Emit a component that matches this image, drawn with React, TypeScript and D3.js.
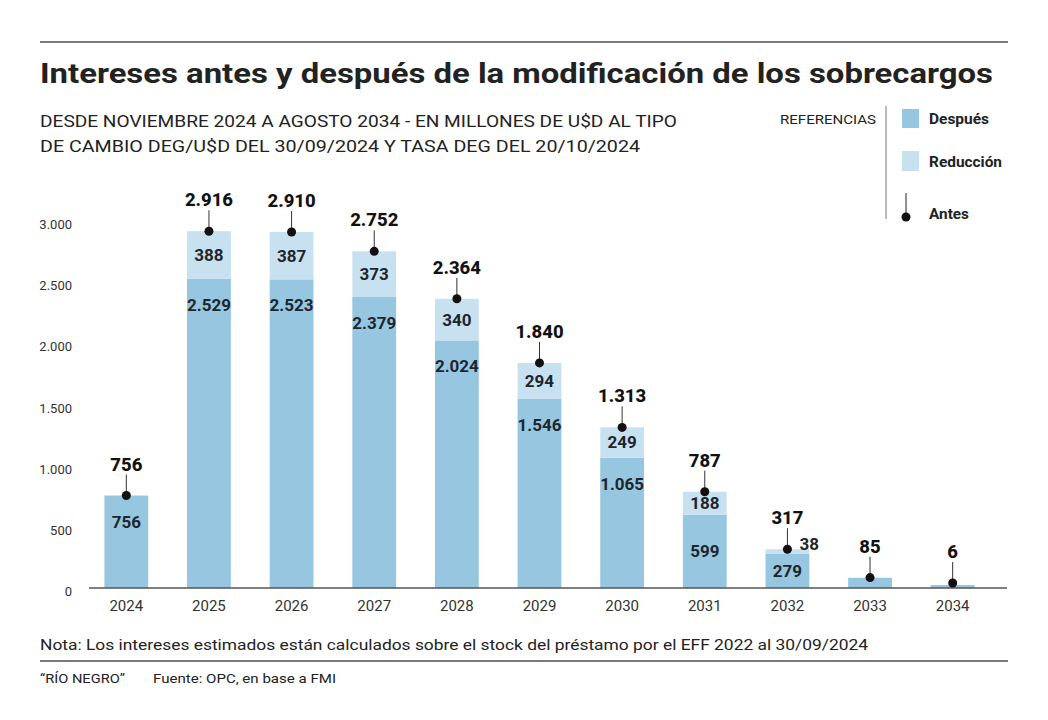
import { useEffect, useRef } from "react";
import * as d3 from "d3";

const years = ["2024", "2025", "2026", "2027", "2028", "2029", "2030", "2031", "2032", "2033", "2034"];
const despues = [756, 2529, 2523, 2379, 2024, 1546, 1065, 599, 279, 83, 6];
const reduccion = [0, 388, 387, 373, 340, 294, 249, 188, 38, 2, 0];
const antes = [756, 2916, 2910, 2752, 2364, 1840, 1313, 787, 317, 85, 6];
const yTicks = [0, 500, 1000, 1500, 2000, 2500, 3000];

const COLOR_DESPUES = "#96c6e0";
const COLOR_REDUCCION = "#c8e1f0";
const INK = "#1e262d";
const FONT = "Roboto, 'Liberation Sans', sans-serif";

const fmt = (v: number) => d3.format(",")(v).replace(/,/g, ".");

export default function App() {
  const svgRef = useRef<SVGSVGElement>(null);

  useEffect(() => {
    if (!svgRef.current) return;
    const svg = d3.select(svgRef.current);
    svg.selectAll("*").remove();

    const base = 588;
    const minH = 3; // keep tiny bars visible, as in the print

    const x = d3.scaleBand<string>().domain(years).range([85, 994]).paddingInner(0.47).paddingOuter(0.235);
    const y = d3.scaleLinear().domain([0, 3000]).range([base, base - 367]);
    const top = (v: number) => Math.min(y(v), base - minH);

    // rules
    svg.append("line").attr("x1", 40).attr("x2", 1008).attr("y1", 42).attr("y2", 42)
      .attr("stroke", "#7a7a7a").attr("stroke-width", 2);
    svg.append("line").attr("x1", 40).attr("x2", 1008).attr("y1", 661).attr("y2", 661)
      .attr("stroke", "#7a7a7a").attr("stroke-width", 2);

    // title
    svg.append("text").attr("x", 40).attr("y", 83)
      .attr("textLength", 953).attr("lengthAdjust", "spacingAndGlyphs")
      .style("font-family", FONT).style("font-weight", 700).style("font-size", "28px").style("fill", "#222")
      .text("Intereses antes y después de la modificación de los sobrecargos");

    const sub = [
      { t: "DESDE NOVIEMBRE 2024 A AGOSTO 2034 - EN MILLONES DE U$D AL TIPO", w: 637, y: 127 },
      { t: "DE CAMBIO DEG/U$D DEL 30/09/2024 Y TASA DEG DEL 20/10/2024", w: 600, y: 152 },
    ];
    sub.forEach((s) => {
      svg.append("text").attr("x", 40).attr("y", s.y)
        .attr("textLength", s.w).attr("lengthAdjust", "spacingAndGlyphs")
        .style("font-family", FONT).style("font-size", "17px").style("fill", "#222")
        .text(s.t);
    });

    // legend
    const lg = svg.append("g");
    lg.append("text").attr("x", 780).attr("y", 124).attr("textLength", 96).attr("lengthAdjust", "spacingAndGlyphs")
      .style("font-family", FONT).style("font-size", "13px").style("fill", "#222").text("REFERENCIAS");
    lg.append("line").attr("x1", 886).attr("x2", 886).attr("y1", 106).attr("y2", 219)
      .attr("stroke", "#777").attr("stroke-width", 1);
    lg.append("rect").attr("x", 902).attr("y", 109).attr("width", 17).attr("height", 19).attr("fill", COLOR_DESPUES);
    lg.append("text").attr("x", 929).attr("y", 124).attr("textLength", 60).attr("lengthAdjust", "spacingAndGlyphs")
      .style("font-family", FONT).style("font-weight", 700).style("font-size", "15px").style("fill", "#222").text("Después");
    lg.append("rect").attr("x", 902).attr("y", 151).attr("width", 17).attr("height", 20).attr("fill", COLOR_REDUCCION);
    lg.append("text").attr("x", 929).attr("y", 167).attr("textLength", 73).attr("lengthAdjust", "spacingAndGlyphs")
      .style("font-family", FONT).style("font-weight", 700).style("font-size", "15px").style("fill", "#222").text("Reducción");
    lg.append("line").attr("x1", 906).attr("x2", 906).attr("y1", 193).attr("y2", 215)
      .attr("stroke", "#222").attr("stroke-width", 1);
    lg.append("circle").attr("cx", 906).attr("cy", 217).attr("r", 4.5).attr("fill", "#111");
    lg.append("text").attr("x", 929).attr("y", 219).attr("textLength", 40).attr("lengthAdjust", "spacingAndGlyphs")
      .style("font-family", FONT).style("font-weight", 700).style("font-size", "15px").style("fill", "#222").text("Antes");

    // y tick labels
    svg.append("g").selectAll("text").data(yTicks).enter().append("text")
      .attr("x", 72).attr("y", (d) => y(d) + 8)
      .attr("text-anchor", "end")
      .style("font-family", FONT).style("font-size", "13px").style("fill", "#333")
      .text((d) => fmt(d));

    const bw = x.bandwidth();
    const g = svg.append("g");

    // bars: después
    g.selectAll(".bd").data(years).enter().append("rect")
      .attr("x", (d) => x(d)!)
      .attr("y", (_, i) => top(despues[i]))
      .attr("width", bw)
      .attr("height", (_, i) => base - top(despues[i]))
      .attr("fill", COLOR_DESPUES);

    // bars: reducción
    g.selectAll(".br").data(years).enter().append("rect")
      .attr("x", (d) => x(d)!)
      .attr("y", (_, i) => y(despues[i] + reduccion[i]))
      .attr("width", bw)
      .attr("height", (_, i) => Math.max(0, y(despues[i]) - y(despues[i] + reduccion[i])))
      .attr("fill", COLOR_REDUCCION);

    // baseline axis
    svg.append("line").attr("x1", 89).attr("x2", 1007).attr("y1", base).attr("y2", base)
      .attr("stroke", "#555").attr("stroke-width", 1.5);

    // year labels
    svg.append("g").selectAll("text").data(years).enter().append("text")
      .attr("x", (d) => x(d)! + bw / 2).attr("y", 611)
      .attr("text-anchor", "middle")
      .style("font-family", FONT).style("font-size", "15px").style("fill", "#333")
      .text((d) => d);

    // inner labels
    years.forEach((yr, i) => {
      const cx = x(yr)! + bw / 2;
      const topD = y(despues[i]);
      const hD = base - topD;
      if (despues[i] > 150) {
        const ly = hD < 80 ? topD + hD / 2 : topD + 26;
        g.append("text").attr("x", cx).attr("y", ly + 6).attr("text-anchor", "middle")
          .style("font-family", FONT).style("font-weight", 700).style("font-size", "17px").style("fill", INK)
          .text(fmt(despues[i]));
      }
      if (reduccion[i] > 10) {
        const topR = y(despues[i] + reduccion[i]);
        const hR = topD - topR;
        if (hR > 15) {
          g.append("text").attr("x", cx).attr("y", topR + hR / 2 + 6).attr("text-anchor", "middle")
            .style("font-family", FONT).style("font-weight", 700).style("font-size", "17px").style("fill", INK)
            .text(fmt(reduccion[i]));
        } else {
          g.append("text").attr("x", cx + 12).attr("y", y(antes[i]) + 1).attr("text-anchor", "start")
            .style("font-family", FONT).style("font-weight", 700).style("font-size", "17px").style("fill", INK)
            .text(fmt(reduccion[i]));
        }
      }
    });

    // antes markers
    const mk = svg.append("g");
    years.forEach((yr, i) => {
      const cx = x(yr)! + bw / 2;
      const cy = Math.min(y(antes[i]), base - minH - 2);
      mk.append("line").attr("x1", cx).attr("x2", cx).attr("y1", cy).attr("y2", cy - 21)
        .attr("stroke", "#333").attr("stroke-width", 1);
      mk.append("circle").attr("cx", cx).attr("cy", cy).attr("r", 4.5).attr("fill", "#111");
      mk.append("text").attr("x", cx).attr("y", cy - 25).attr("text-anchor", "middle")
        .style("font-family", FONT).style("font-weight", 800).style("font-size", "18.5px").style("fill", "#111")
        .text(fmt(antes[i]));
    });

    // notes
    svg.append("text").attr("x", 40).attr("y", 650).attr("textLength", 828).attr("lengthAdjust", "spacingAndGlyphs")
      .style("font-family", FONT).style("font-size", "15px").style("fill", "#222")
      .text("Nota: Los intereses estimados están calculados sobre el stock del préstamo por el EFF 2022 al 30/09/2024");
    svg.append("text").attr("x", 40).attr("y", 683).attr("textLength", 85).attr("lengthAdjust", "spacingAndGlyphs")
      .style("font-family", FONT).style("font-size", "13px").style("fill", "#222")
      .text("“RÍO NEGRO”");
    svg.append("text").attr("x", 153).attr("y", 683).attr("textLength", 183).attr("lengthAdjust", "spacingAndGlyphs")
      .style("font-family", FONT).style("font-size", "13px").style("fill", "#222")
      .text("Fuente: OPC, en base a FMI");
  }, []);

  return (
    <svg
      ref={svgRef}
      width={1048}
      height={720}
      style={{ position: "absolute", left: 0, top: 0, background: "#fff", display: "block" }}
    />
  );
}
